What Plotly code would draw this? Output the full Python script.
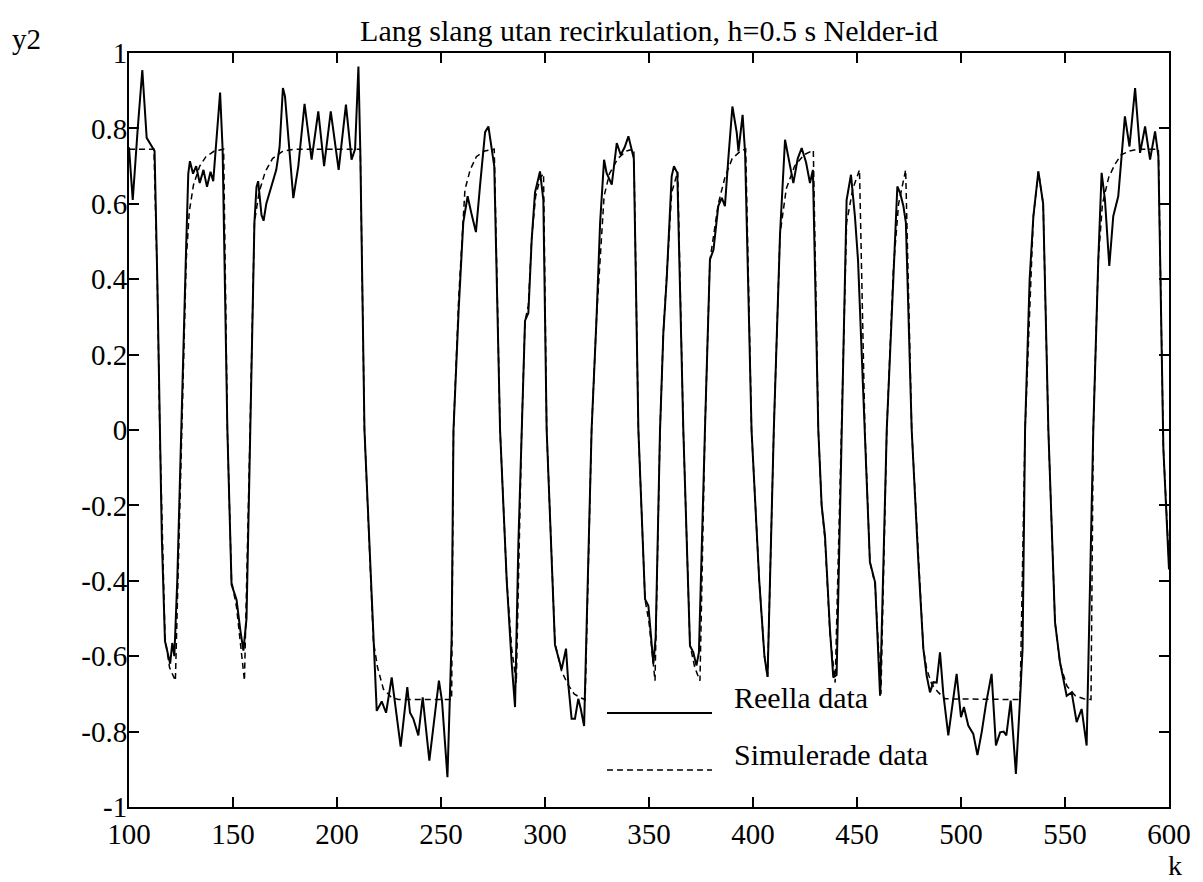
import plotly.graph_objects as go

# measured output ("Reella data"), sample index k
k_real = [100, 101.8, 104.2, 106.4, 108.5, 110.5, 112.3, 113.6, 114.8, 115.8, 117.3, 118.8, 119.8, 120.8, 121.8,
          123.2, 125.3, 127.3, 128.5, 129.3, 130.8, 132.3, 134.0, 135.8, 137.5, 139.2, 140.5, 142.0, 143.8, 145.0,
          147.3, 149.3, 151.7, 153.5, 155.0, 156.5, 158.2, 160.3, 161.3, 162.1, 163.7, 164.7, 166.0, 168.4, 170.8,
          172.4, 174.0, 175.0, 176.6, 179.0, 181.4, 184.4, 187.8, 191.0, 193.8, 197.0, 200.8, 204.3, 207.0, 208.7,
          210.3, 211.2, 213.2, 217.5, 219.1, 221.5, 223.6, 226.3, 228.3, 230.6, 233.8, 235.1, 236.7, 239.1, 241.2,
          244.4, 249.0, 250.5, 253.1, 255.1, 256.0, 258.5, 260.7, 262.8, 264.8, 266.8, 268.8, 271.2, 272.8, 274.4,
          275.6, 278.4, 281.6, 284.0, 285.6, 287.2, 288.8, 290.4, 292.0, 293.6, 295.2, 297.6, 299.2, 300.8, 304.8,
          306.4, 308.0, 310.1, 311.3, 312.8, 314.4, 316.0, 317.2, 318.8, 322.4, 324.8, 326.5, 328.4, 329.6, 332.1,
          334.5, 336.4, 338.3, 340.1, 341.7, 342.7, 344.9, 348.1, 349.7, 352.1, 353.2, 355.3, 356.9, 358.5, 360.9,
          362.0, 363.6, 366.5, 369.7, 371.3, 372.8, 374.0, 376.9, 379.3, 381.0, 383.3, 385.0, 386.5, 388.1, 390.1,
          392.2, 393.0, 395.0, 396.2, 399.3, 403.0, 405.5, 407.0, 410.0, 413.0, 415.4, 417.3, 419.4, 421.5, 423.4,
          425.5, 427.4, 428.8, 431.4, 433.0, 434.6, 437.0, 438.6, 440.2, 442.6, 445.0, 447.1, 449.0, 450.5, 453.8,
          456.2, 458.7, 461.1, 464.3, 467.5, 469.4, 470.7, 472.3, 473.5, 476.3, 479.5, 481.9, 483.5, 485.1, 486.7,
          488.3, 489.9, 491.5, 493.9, 495.5, 497.9, 500.0, 501.4, 503.5, 505.9, 507.9, 510.0, 512.0, 514.7, 516.8,
          518.8, 520.5, 521.8, 523.9, 526.4, 528.4, 529.6, 530.8, 533.0, 534.8, 537.2, 539.5, 542.0, 545.2, 547.6,
          550.8, 553.2, 555.6, 558.0, 560.4, 563.6, 566.0, 567.6, 569.2, 571.3, 573.2, 575.6, 578.8, 581.0, 583.7,
          586.1, 588.5, 590.9, 593.3, 594.9, 597.3, 600.0]
y_real = [0.75, 0.61, 0.80, 0.955, 0.775, 0.755, 0.74, 0.40, 0.0, -0.29, -0.56, -0.60, -0.62, -0.565, -0.60,
          -0.40, 0.0, 0.45, 0.68, 0.713, 0.68, 0.70, 0.655, 0.69, 0.645, 0.685, 0.66, 0.76, 0.895, 0.745,
          0.0, -0.41, -0.45, -0.53, -0.585, -0.50, 0.0, 0.55, 0.645, 0.66, 0.57, 0.555, 0.60, 0.645, 0.69,
          0.75, 0.907, 0.885, 0.77, 0.615, 0.70, 0.865, 0.717, 0.845, 0.70, 0.845, 0.69, 0.863, 0.717, 0.745,
          0.964, 0.74, 0.0, -0.555, -0.745, -0.72, -0.75, -0.656, -0.74, -0.84, -0.682, -0.75, -0.766, -0.81, -0.709,
          -0.877, -0.665, -0.72, -0.921, -0.554, 0.0, 0.32, 0.55, 0.62, 0.57, 0.525, 0.65, 0.79, 0.805, 0.74,
          0.70, 0.0, -0.40, -0.62, -0.735, -0.30, 0.0, 0.29, 0.31, 0.505, 0.63, 0.686, 0.61, 0.0, -0.57,
          -0.60, -0.635, -0.58, -0.68, -0.766, -0.766, -0.713, -0.74, -0.785, 0.0, 0.30, 0.55, 0.717, 0.682, 0.651,
          0.761, 0.73, 0.75, 0.779, 0.739, 0.72, 0.0, -0.449, -0.466, -0.62, -0.55, 0.0, 0.258, 0.40, 0.673,
          0.70, 0.682, 0.0, -0.572, -0.59, -0.625, -0.59, 0.0, 0.452, 0.478, 0.594, 0.616, 0.594, 0.717, 0.858,
          0.788, 0.739, 0.836, 0.735, 0.0, -0.40, -0.60, -0.655, 0.0, 0.52, 0.77, 0.72, 0.655, 0.72, 0.748,
          0.71, 0.655, 0.69, 0.0, -0.20, -0.28, -0.53, -0.656, -0.65, 0.0, 0.61, 0.677, 0.567, 0.45, 0.0,
          -0.35, -0.404, -0.705, 0.0, 0.435, 0.646, 0.629, 0.594, 0.55, 0.0, -0.35, -0.58, -0.652, -0.696, -0.669,
          -0.67, -0.59, -0.70, -0.81, -0.75, -0.647, -0.762, -0.735, -0.784, -0.806, -0.862, -0.80, -0.727, -0.647, -0.837,
          -0.802, -0.80, -0.81, -0.718, -0.912, -0.713, -0.58, 0.0, 0.40, 0.567, 0.686, 0.60, 0.0, -0.51, -0.616,
          -0.705, -0.696, -0.775, -0.74, -0.837, 0.0, 0.45, 0.682, 0.611, 0.435, 0.567, 0.62, 0.832, 0.752, 0.907,
          0.735, 0.805, 0.717, 0.792, 0.726, -0.05, -0.37]

# simulated model output ("Simulerade data")
k_sim = [100, 112.0, 113.6, 114.8, 117.3, 119.5, 122.3, 125.3, 127.5, 129.0, 131.0, 134.0, 137.0, 141.0, 145.5,
         147.3, 149.3, 151.7, 154.0, 155.5, 158.2, 160.3, 162.5, 165.5, 169.0, 174.0, 180.0, 211.2, 213.2, 217.5,
         219.5, 222.3, 226.0, 229.5, 255.1, 256.0, 258.5, 261.5, 264.0, 267.0, 271.0, 275.6, 278.4, 281.6, 284.0,
         286.2, 288.8, 290.4, 292.0, 293.6, 295.5, 297.8, 299.3, 300.8, 304.8, 308.0, 311.0, 314.0, 317.0, 319.3,
         322.4, 324.8, 328.4, 331.0, 335.0, 339.0, 342.7, 344.9, 348.1, 350.0, 352.9, 355.3, 356.9, 358.5, 360.9,
         363.8, 366.5, 369.7, 372.0, 374.5, 376.9, 379.3, 383.3, 386.5, 390.0, 394.0, 396.5, 399.3, 403.0, 405.5,
         407.0, 410.0, 413.0, 416.0, 420.0, 424.5, 429.0, 431.4, 433.0, 434.6, 437.0, 439.5, 442.6, 445.0, 448.0,
         451.2, 453.8, 456.2, 458.7, 461.5, 464.3, 467.5, 470.0, 473.4, 476.3, 479.5, 481.9, 483.5, 486.0, 489.1,
         492.3, 528.4, 530.8, 534.8, 537.2, 539.5, 542.0, 545.2, 547.6, 551.0, 555.0, 559.0, 562.5, 563.6, 566.0,
         568.0, 571.0, 574.0, 577.0, 581.0, 585.0, 594.9, 597.3, 600.0]
y_sim = [0.745, 0.745, 0.40, 0.0, -0.55, -0.63, -0.665, 0.0, 0.45, 0.58, 0.65, 0.70, 0.725, 0.74, 0.745,
         0.0, -0.40, -0.47, -0.60, -0.665, 0.0, 0.55, 0.63, 0.685, 0.72, 0.74, 0.745, 0.745, 0.0, -0.56,
         -0.63, -0.687, -0.708, -0.715, -0.715, 0.0, 0.35, 0.637, 0.69, 0.725, 0.74, 0.745, 0.0, -0.40, -0.58,
         -0.67, 0.0, 0.29, 0.33, 0.51, 0.62, 0.67, 0.68, 0.0, -0.565, -0.64, -0.675, -0.70, -0.71, -0.715,
         0.0, 0.30, 0.62, 0.68, 0.72, 0.74, 0.745, 0.0, -0.45, -0.51, -0.665, 0.0, 0.26, 0.41, 0.63,
         0.685, 0.0, -0.57, -0.63, -0.665, 0.0, 0.45, 0.60, 0.67, 0.72, 0.74, 0.745, 0.0, -0.40, -0.60,
         -0.655, 0.0, 0.52, 0.64, 0.70, 0.73, 0.742, 0.0, -0.20, -0.29, -0.54, -0.67, 0.0, 0.55, 0.64,
         0.69, 0.0, -0.35, -0.41, -0.70, 0.0, 0.43, 0.60, 0.69, 0.0, -0.35, -0.58, -0.634, -0.675, -0.696,
         -0.713, -0.715, 0.0, 0.567, 0.686, 0.60, 0.0, -0.51, -0.62, -0.68, -0.705, -0.713, -0.715, 0.0, 0.45,
         0.60, 0.67, 0.705, 0.73, 0.74, 0.745, 0.745, -0.05, -0.35]

x_ticks = [100, 150, 200, 250, 300, 350, 400, 450, 500, 550, 600]
y_ticks = [-1, -0.8, -0.6, -0.4, -0.2, 0, 0.2, 0.4, 0.6, 0.8, 1]
y_ticktext = ['-1', '-0.8', '-0.6', '-0.4', '-0.2', '0', '0.2', '0.4', '0.6', '0.8', '1']

serif = 'Liberation Serif'

fig = go.Figure()
fig.add_trace(go.Scatter(x=k_real, y=y_real, mode='lines', name='Reella data',
                         line=dict(color='black', width=2)))
fig.add_trace(go.Scatter(x=k_sim, y=y_sim, mode='lines', name='Simulerade data',
                         line=dict(color='black', width=1.5, dash='6px,4px')))

axis_common = dict(showgrid=False, zeroline=False, showline=True, linecolor='black', linewidth=2,
                   mirror='ticks', ticks='inside', ticklen=10, tickwidth=1.5, tickcolor='black',
                   tickfont=dict(family=serif, size=29, color='black'))

# the page body adds an 8px margin, so the figure is 8px smaller than the window
fig.update_layout(
    width=1195, height=874,
    margin=dict(l=121, r=34, t=45, b=75),
    paper_bgcolor='white', plot_bgcolor='white',
    showlegend=False,
    title=dict(text='Lang slang utan recirkulation, h=0.5 s Nelder-id', x=0.5, xref='paper',
               xanchor='center', y=1 - 22 / 874, yref='container', yanchor='middle',
               font=dict(family=serif, size=30, color='black')),
    xaxis=dict(range=[100, 600], tickvals=x_ticks, **axis_common),
    yaxis=dict(range=[-1, 1], tickvals=y_ticks, ticktext=y_ticktext, ticklabelstandoff=-6, **axis_common),
)

# axis names placed like the original print
fig.add_annotation(text='y2', xref='paper', yref='paper', x=-0.099, y=1.0186, showarrow=False,
                   xanchor='center', yanchor='middle', font=dict(family=serif, size=29, color='black'))
fig.add_annotation(text='k', xref='paper', yref='paper', x=1.0058, y=-0.0782, showarrow=False,
                   xanchor='center', yanchor='middle', borderpad=0,
                   font=dict(family=serif, size=28, color='black'))

# legend drawn inside the axes: text above the line sample
fig.add_shape(type='line', xref='paper', yref='paper', x0=0.4596, x1=0.5606, y0=0.1247, y1=0.1247,
              line=dict(color='black', width=2))
fig.add_shape(type='line', xref='paper', yref='paper', x0=0.4596, x1=0.5606, y0=0.0491, y1=0.0491,
              line=dict(color='black', width=1.5, dash='6px,4px'))
fig.add_annotation(text='Reella data', xref='paper', yref='paper', x=0.5798, y=0.1446, showarrow=False,
                   xanchor='left', yanchor='middle', font=dict(family=serif, size=30, color='black'))
fig.add_annotation(text='Simulerade data', xref='paper', yref='paper', x=0.5798, y=0.0690, showarrow=False,
                   xanchor='left', yanchor='middle', font=dict(family=serif, size=30, color='black'))

fig.write_html("out.html")
